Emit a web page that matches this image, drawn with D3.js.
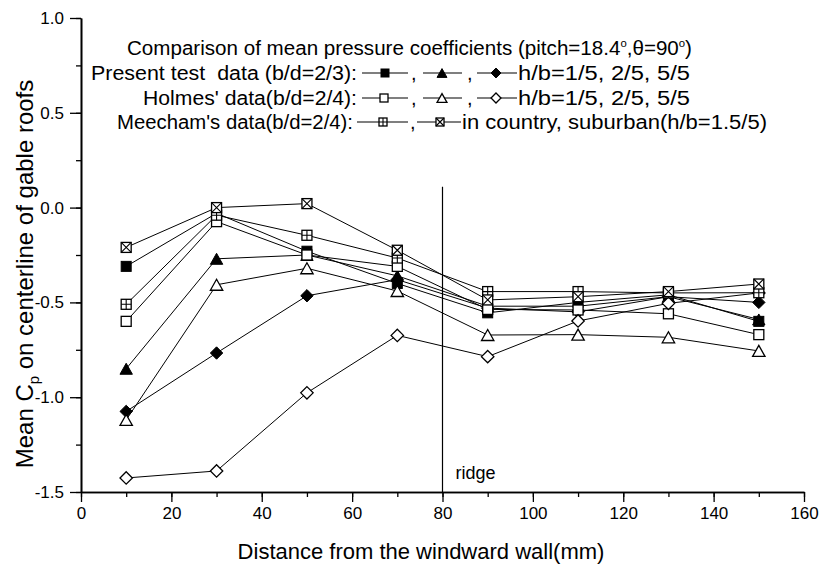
<!DOCTYPE html>
<html>
<head>
<meta charset="utf-8">
<script src="https://cdn.jsdelivr.net/npm/d3@7/dist/d3.min.js"></script>
<style>
  html, body { margin: 0; padding: 0; background: #fff; }
  svg { display: block; font-family: "Liberation Sans", Arial, sans-serif; }
</style>
</head>
<body>
<svg id="chart" width="823" height="569"></svg>
<script>
// ---------- data ----------
const distance = [10, 30, 50, 70, 90, 110, 130, 150];
const presentH1 = [-0.31, -0.03, -0.23, -0.40, -0.555, -0.50, -0.46, -0.60];
const presentH2 = [-0.85, -0.27, -0.25, -0.36, -0.52, -0.52, -0.47, -0.59];
const presentH5 = [-1.075, -0.767, -0.465, -0.38, -0.53, -0.55, -0.47, -0.50];
const holmesH1 = [-0.60, -0.074, -0.25, -0.31, -0.537, -0.54, -0.56, -0.67];
const holmesH2 = [-1.12, -0.407, -0.32, -0.44, -0.672, -0.67, -0.684, -0.756];
const holmesH5 = [-1.426, -1.389, -0.977, -0.674, -0.786, -0.598, -0.505, -0.45];
const meechamCountry = [-0.51, -0.04, -0.146, -0.266, -0.443, -0.443, -0.45, -0.449];
const meechamSuburban = [-0.21, 0.0, 0.021, -0.225, -0.487, -0.47, -0.443, -0.403];
const xTicks = [0, 20, 40, 60, 80, 100, 120, 140, 160];
const yTicks = [-1.5, -1.0, -0.5, 0.0, 0.5, 1.0];
const ridgeX = 80;
const ridgeTop = 0.11;

const series = [
  { values: presentH1, marker: "squareFilled" },
  { values: presentH2, marker: "triangleFilled" },
  { values: presentH5, marker: "diamondFilled" },
  { values: holmesH1, marker: "squareOpen" },
  { values: holmesH2, marker: "triangleOpen" },
  { values: holmesH5, marker: "diamondOpen" },
  { values: meechamCountry, marker: "squarePlus" },
  { values: meechamSuburban, marker: "squareCross" }
];

// ---------- scales ----------
const svg = d3.select("#chart");
const x = d3.scaleLinear().domain([0, 160]).range([81, 804]);
const y = d3.scaleLinear().domain([-1.5, 1.0]).range([492, 18]);
const fmtY = d => d3.format(".1f")(d).replace("\u2212", "-");

// ---------- markers ----------
function drawMarker(g, type, cx, cy, s) {
  const h = s / 2;
  const open = { fill: "#fff", stroke: "#000", "stroke-width": 1.3 };
  const filled = { fill: "#000", stroke: "#000", "stroke-width": 1 };
  const apply = (el, st) => { for (const k in st) el.attr(k, st[k]); return el; };
  if (type.startsWith("square")) {
    const st = type === "squareFilled" ? filled : open;
    apply(g.append("rect").attr("x", cx - h).attr("y", cy - h).attr("width", s).attr("height", s), st);
    if (type === "squarePlus") {
      g.append("path").attr("d", `M${cx - h},${cy}H${cx + h}M${cx},${cy - h}V${cy + h}`)
        .attr("stroke", "#000").attr("stroke-width", 1.1);
    } else if (type === "squareCross") {
      g.append("path").attr("d", `M${cx - h},${cy - h}L${cx + h},${cy + h}M${cx + h},${cy - h}L${cx - h},${cy + h}`)
        .attr("stroke", "#000").attr("stroke-width", 1.1);
    }
  } else if (type.startsWith("triangle")) {
    const st = type === "triangleFilled" ? filled : open;
    const w = s * 0.62, ht = s * 0.55;
    apply(g.append("path").attr("d", `M${cx},${cy - ht}L${cx + w},${cy + ht}L${cx - w},${cy + ht}Z`), st);
  } else if (type.startsWith("diamond")) {
    const st = type === "diamondFilled" ? filled : open;
    const r = s * 0.62;
    apply(g.append("path").attr("d", `M${cx},${cy - r}L${cx + r},${cy}L${cx},${cy + r}L${cx - r},${cy}Z`), st);
  }
}

// ---------- axes ----------
const axX = svg.append("g").attr("transform", `translate(0,${y(-1.5)})`);
axX.call(d3.axisBottom(x).tickValues(d3.range(0, 161, 10)).tickSize(5).tickSizeOuter(0).tickFormat(""));
axX.call(g => g.append("g").call(d3.axisBottom(x).tickValues(xTicks).tickSize(10).tickSizeOuter(0).tickFormat(d3.format("d"))));
axX.selectAll("path.domain").attr("stroke-width", 1.6);
axX.selectAll("line").attr("stroke-width", 1.3);
axX.selectAll("text").attr("font-size", 17).attr("fill", "#000").attr("font-family", "Liberation Sans, Arial, sans-serif").attr("dy", "0.85em");

const axY = svg.append("g").attr("transform", `translate(${x(0)},0)`);
axY.call(d3.axisLeft(y).tickValues(d3.range(-1.5, 1.01, 0.25)).tickSize(5).tickSizeOuter(0).tickFormat(""));
axY.call(g => g.append("g").call(d3.axisLeft(y).tickValues(yTicks).tickSize(11).tickSizeOuter(0).tickFormat(fmtY).tickPadding(6)));
axY.selectAll("path.domain").attr("stroke-width", 1.6);
axY.selectAll("line").attr("stroke-width", 1.3);
axY.selectAll("text").attr("font-size", 17).attr("fill", "#000").attr("font-family", "Liberation Sans, Arial, sans-serif");

// ---------- ridge ----------
svg.append("line").attr("x1", x(ridgeX)).attr("x2", x(ridgeX))
  .attr("y1", y(ridgeTop)).attr("y2", y(-1.5)).attr("stroke", "#000").attr("stroke-width", 1.2);
svg.append("text").attr("x", x(ridgeX) + 13).attr("y", 479).attr("font-size", 18).text("ridge");

// ---------- series ----------
const line = d3.line().x((d, i) => x(distance[i])).y(d => y(d));
const gl = svg.append("g");
series.forEach(s => {
  gl.append("path").attr("d", line(s.values)).attr("fill", "none").attr("stroke", "#000").attr("stroke-width", 1);
});
const gm = svg.append("g");
series.forEach(s => {
  s.values.forEach((v, i) => drawMarker(gm, s.marker, x(distance[i]), y(v), 10));
});

// ---------- legend ----------
const lg = svg.append("g").attr("font-size", 20).attr("fill", "#000");
const t1 = lg.append("text").attr("x", 127).attr("y", 55).attr("textLength", 565).attr("lengthAdjust", "spacingAndGlyphs");
t1.append("tspan").text("Comparison of mean pressure coefficients (pitch=18.4");
t1.append("tspan").attr("dy", -8).attr("font-size", 11).text("o");
t1.append("tspan").attr("dy", 8).text(",\u03b8=90");
t1.append("tspan").attr("dy", -8).attr("font-size", 11).text("o");
t1.append("tspan").attr("dy", 8).text(")");

function legText(txt, xEnd, yb, len, anchor) {
  const t = lg.append("text").attr("x", xEnd).attr("y", yb).attr("text-anchor", anchor || "start")
    .style("white-space", "pre").text(txt);
  if (len) t.attr("textLength", len).attr("lengthAdjust", "spacingAndGlyphs");
}
function legSample(x1, x2, yc, marker, mx) {
  lg.append("line").attr("x1", x1).attr("x2", x2).attr("y1", yc).attr("y2", yc).attr("stroke", "#000").attr("stroke-width", 1.2);
  drawMarker(lg, marker, mx, yc, 8);
}

// row 2
legText("Present test  data (b/d=2/3):", 357, 80, 266, "end");
legSample(362, 408, 73, "squareFilled", 385);
legText(",", 411, 80);
legSample(423, 462, 73, "triangleFilled", 442);
legText(",", 467, 80);
legSample(477, 517, 73, "diamondFilled", 496);
legText("h/b=1/5, 2/5, 5/5", 518, 80, 172);
// row 3
legText("Holmes' data(b/d=2/4):", 357, 105, 214, "end");
legSample(362, 408, 98, "squareOpen", 384);
legText(",", 411, 105);
legSample(423, 462, 98, "triangleOpen", 442);
legText(",", 467, 105);
legSample(477, 517, 98, "diamondOpen", 496);
legText("h/b=1/5, 2/5, 5/5", 518, 105, 172);
// row 4
legText("Meecham's data(b/d=2/4):", 353, 129, 236, "end");
legSample(357, 408, 122, "squarePlus", 383);
legText(",", 410, 129);
legSample(417, 461, 122, "squareCross", 440);
legText("in country, suburban(h/b=1.5/5)", 462, 129, 305);

// ---------- axis titles ----------
const yt = svg.append("text").attr("transform", `translate(33,274) rotate(-90)`)
  .attr("text-anchor", "middle").attr("font-size", 24);
yt.append("tspan").text("Mean C");
yt.append("tspan").attr("font-size", 15).attr("dy", 6).text("p");
yt.append("tspan").attr("dy", -6).text(" on centerline of gable roofs");

svg.append("text").attr("x", 421).attr("y", 559).attr("text-anchor", "middle").attr("font-size", 22)
  .text("Distance from the windward wall(mm)");
</script>
</body>
</html>
